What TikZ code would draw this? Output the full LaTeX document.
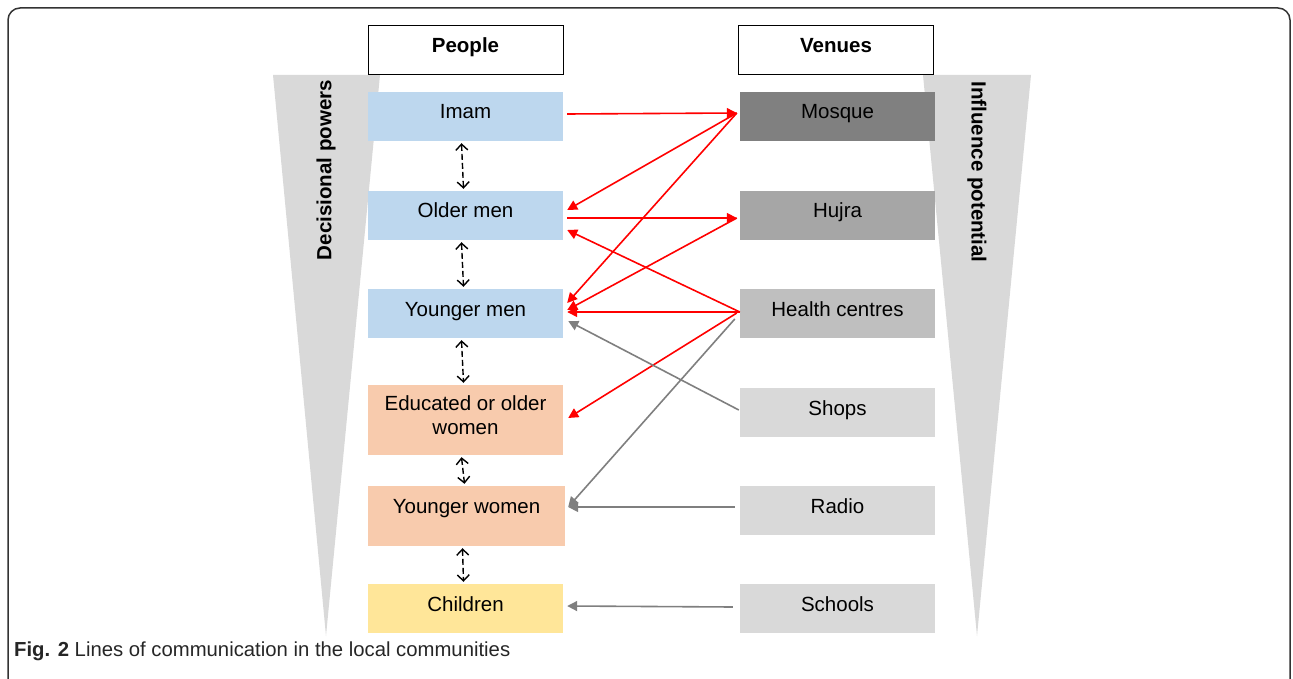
\documentclass[tikz,border=0pt]{standalone}
\usepackage{fontspec}
\setmainfont{Liberation Sans}
\usetikzlibrary{arrows.meta}
\definecolor{menblue}{HTML}{BDD7EE}
\definecolor{womenpeach}{HTML}{F8CBAD}
\definecolor{childyellow}{HTML}{FFE699}
\definecolor{conegrey}{HTML}{D9D9D9}
\definecolor{linegrey}{HTML}{7F7F7F}
\begin{document}
\begin{tikzpicture}[x=1pt, y=-1pt,
    every node/.style={font=\fontsize{20.5}{24}\selectfont},
    box/.style={minimum width=195pt, minimum height=49pt, inner sep=0pt, align=center, text height=15pt, text depth=10pt},
    head/.style={box, draw, line width=1pt, font=\fontsize{20.5}{24}\selectfont\bfseries},
    talk/.style={-{Triangle[length=10pt,width=10pt]}, line width=1.6pt, red},
    reach/.style={talk, linegrey},
    rank/.style={{Straight Barb[length=6pt,width=12pt,line width=1.4pt]}-{Straight Barb[length=6pt,width=12pt,line width=1.4pt]}, dash pattern=on 6pt off 3pt, line width=1.4pt}]
    \useasboundingbox (0,0) rectangle (1293,679);
    \draw[line width=1.5pt, rounded corners=12pt, black!80] (8,700) -- (8,8) -- (1290,8) -- (1290,700);
    % the two cones
    \fill[conegrey] (273,75) -- (380,75) -- (326,636) -- cycle;
    \fill[conegrey] (923,75) -- (1031,75) -- (977,636) -- cycle;
    \node[rotate=90, font=\fontsize{20.5}{24}\selectfont\bfseries] (decide) at (326,170) {Decisional powers};
    \node[rotate=-90, font=\fontsize{20.5}{24}\selectfont\bfseries] (influence) at (977,172) {Influence potential};
    % people
    \node[head] (people) at (465.5,50.5) {People};
    \node[box, fill=menblue] (imam) at (465.5,116.5) {Imam};
    \node[box, fill=menblue] (older) at (465.5,215.5) {Older men};
    \node[box, fill=menblue] (younger) at (465.5,313.5) {Younger men};
    \node[box, fill=womenpeach, minimum height=70pt, text height=39pt] (educated) at (465.5,420) {Educated or older\\women};
    \node[box, fill=womenpeach, minimum height=60pt, minimum width=197pt, text depth=21pt] (ywomen) at (466.5,516) {Younger women};
    \node[box, fill=childyellow] (children) at (465.5,608.5) {Children};
    % venues
    \node[head] (venues) at (836,50.5) {Venues};
    \node[box, fill=black!50] (mosque) at (837.5,116.5) {Mosque};
    \node[box, fill=black!35] (hujra) at (837.5,215.5) {Hujra};
    \node[box, fill=black!25] (health) at (837.5,313.5) {Health centres};
    \node[box, fill=conegrey] (shops) at (837.5,412.5) {Shops};
    \node[box, fill=conegrey] (radio) at (837.5,510.5) {Radio};
    \node[box, fill=conegrey] (schools) at (837.5,608.5) {Schools};
    % ranks among people
    \foreach \a/\b in {imam/older, older/younger, younger/educated, educated/ywomen, ywomen/children}
      \draw[rank] ([xshift=-4pt,yshift=-2pt]\a.south) -- ([xshift=-2pt,yshift=2pt]\b.north);
    % red lines
    \draw[talk] ([xshift=4pt,yshift=2.5pt]imam.east) -- ([xshift=-3pt,yshift=3.5pt]mosque.west);
    \draw[talk] ([xshift=-3pt,yshift=3.5pt]mosque.west) -- ([xshift=4pt,yshift=5.5pt]older.east);
    \draw[talk] ([xshift=-3pt,yshift=3.5pt]mosque.west) -- ([xshift=4pt,yshift=10.5pt]younger.east);
    \draw[talk] ([xshift=4pt,yshift=-2.5pt]older.east) -- ([xshift=-3pt,yshift=-2.5pt]hujra.west);
    \draw[talk] ([xshift=-3pt,yshift=-2.5pt]hujra.west) -- ([xshift=4pt,yshift=3.5pt]younger.east);
    \draw[talk] ([yshift=1.5pt]health.west) -- ([xshift=4pt,yshift=-14.5pt]older.east);
    \draw[talk] ([yshift=1.5pt]health.west) -- ([xshift=4pt,yshift=1.5pt]younger.east);
    \draw[talk] ([xshift=-3pt,yshift=0.5pt]health.west) -- ([xshift=5pt,yshift=2pt]educated.east);
    % grey lines
    \draw[reach] ([xshift=-5pt,yshift=-5.5pt]health.west) -- ([xshift=3pt,yshift=9pt]ywomen.east);
    \draw[reach] ([xshift=-1pt,yshift=2.5pt]shops.west) -- ([xshift=5pt,yshift=-7.5pt]younger.east);
    \draw[reach] ([xshift=-5pt,yshift=3.5pt]radio.west) -- ([xshift=3pt,yshift=9pt]ywomen.east);
    \draw[reach] ([xshift=-7pt,yshift=1.5pt]schools.west) -- ([xshift=4pt,yshift=2.5pt]children.east);
    \node[anchor=base west, inner sep=0pt, font=\fontsize{20.3}{22}\selectfont, text=black!85] (caption) at (14,656) {\textbf{Fig. 2} Lines of communication in the local communities};
\end{tikzpicture}
\end{document}
